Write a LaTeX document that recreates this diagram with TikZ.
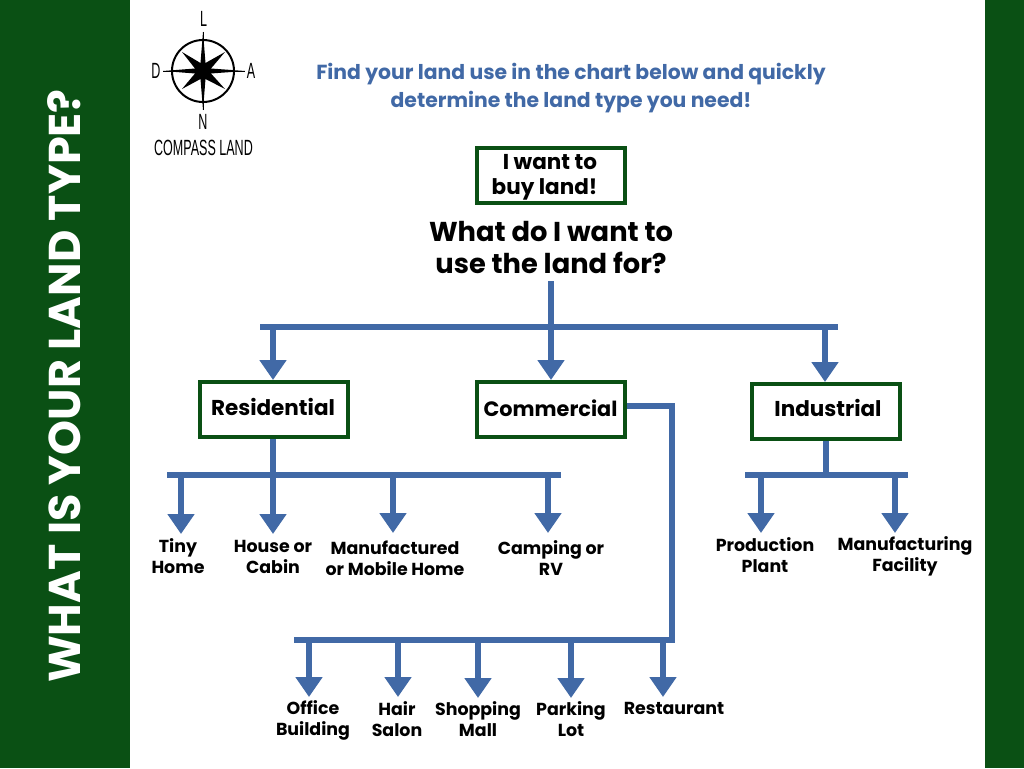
\documentclass[tikz,border=0pt]{standalone}
\usepackage{fontspec}
\setmainfont{Poppins}
\newfontfamily\logofont{Liberation Sans}[FakeStretch=0.57]
\usetikzlibrary{arrows.meta}
\definecolor{dkgreen}{HTML}{0A5014}
\definecolor{flowblue}{HTML}{4169A6}
\tikzset{
  x=1pt,y=-1pt,
  box/.style={draw=dkgreen,line width=4pt,fill=white,minimum width=148pt,minimum height=55pt,inner sep=0pt},
  boxtext/.style={font=\fontsize{21.5}{25}\selectfont\bfseries,align=center,inner sep=0pt},
  leaf/.style={font=\fontsize{17.4}{21}\selectfont\bfseries,align=center,inner sep=0pt,text=black},
  logo/.style={font=\logofont\fontsize{22}{22}\selectfont,inner sep=0pt,text=black},
  flow/.style={draw=flowblue,line width=6pt},
  flowarrow/.style={flow,-{Triangle[width=26pt,length=20pt,color=flowblue]}}
}
\begin{document}
\begin{tikzpicture}
\useasboundingbox (0,0) rectangle (1024,768);
\fill[dkgreen] (0,0) rectangle (130,768);
\fill[dkgreen] (985,0) rectangle (1024,768);
\node[rotate=90,text=white,font=\fontsize{44.5}{44.5}\selectfont\bfseries,inner sep=0pt] (side) at (64,386) {WHAT IS YOUR LAND TYPE?};
% logo
\coordinate (cc) at (203,71);
\draw[black,line width=2pt] (cc) circle (31);
\draw[black,line width=1pt] (203,32)--(203,110) (163,71)--(245,71);
\fill[black] (203,32)--(205.5,63)--(225,52)--(211,68.5)--(245,71)--(211,73.5)--(225,89)--(205.5,79)--(203,110)--(200.5,79)--(182,89)--(195,73.5)--(163,71)--(195,68.5)--(182,52)--(200.5,63)--cycle;
\node[logo] (lL) at (203.5,19) {L};
\node[logo] (lD) at (156,71) {D};
\node[logo] (lA) at (251,71) {A};
\node[logo] (lN) at (203,122) {N};
\node[logo] (lC) at (203.5,148) {COMPASS LAND};
% title
\node[font=\fontsize{20.35}{28.5}\selectfont\bfseries,text=flowblue,align=center,inner sep=0pt] (title) at (571,88) {Find your land use in the chart below and quickly\\determine the land type you need!};
% boxes
\node[box] (buy) at (550.5,175) {};
\node[boxtext,anchor=center] (buyt) at (550,177.5) {I want to\\buy land!\hspace*{11pt}};
\node[font=\fontsize{27.3}{32}\selectfont\bfseries,align=center,inner sep=0pt] (q) at (551,248) {What do I want to\\use the land for?};
\node[box] (res) at (273.5,409.5) {};
\node[boxtext] at (273,407) {Residential};
\node[box] (com) at (550.5,409) {};
\node[boxtext,font=\fontsize{20.8}{25}\selectfont\bfseries] at (550.5,408) {Commercial};
\node[box] (ind) at (825.5,411) {};
\node[boxtext] at (828,408) {Industrial};
% junctions
\coordinate (qb) at (551,281);
\coordinate (t1) at (260,327); \coordinate (t2) at (838,327);
\coordinate (tm) at (551,327);
\coordinate (tr) at (273,327); \coordinate (ti) at (825,327);
\coordinate (r1) at (167,475); \coordinate (r2) at (561,475);
\coordinate (c1) at (672,406); \coordinate (c2) at (672,640); \coordinate (c3) at (294,640);
\coordinate (i1) at (745,475); \coordinate (i2) at (908,475);
% top tree
\draw[flow] (t1) -- (t2);
\draw[flow] (qb) -- (tm);
\draw[flowarrow] (tr) -- (273,380);
\draw[flowarrow] (tm) -- (551,380);
\draw[flowarrow] (ti) -- (825,382);
% residential
\draw[flow] (res.south -| tr) -- (tr |- r1);
\draw[flow] (r1) -- (r2);
\coordinate (ra) at (181,475); \coordinate (rb) at (273,475); \coordinate (rc) at (393,475); \coordinate (rd) at (548,475);
\draw[flowarrow] (ra) -- (181,534);
\draw[flowarrow] (rb) -- (273,534);
\draw[flowarrow] (rc) -- (393,533);
\draw[flowarrow] (rd) -- (548,533);
% commercial
\draw[flow,line join=miter] (com.east |- c1) -- (c1) -- (c2) -- (c3);
\coordinate (ca) at (309,640); \coordinate (cb) at (398,640); \coordinate (cc2) at (478,640); \coordinate (cd) at (571,640); \coordinate (ce) at (663,640);
\draw[flowarrow] (ca) -- (309,697);
\draw[flowarrow] (cb) -- (398,697);
\draw[flowarrow] (cc2) -- (478,698);
\draw[flowarrow] (cd) -- (571,698);
\draw[flowarrow] (ce) -- (663,697);
% industrial
\draw[flow] (ind.south) -- (ind.south |- i1);
\draw[flow] (i1) -- (i2);
\coordinate (ia) at (761,475); \coordinate (ib) at (895,475);
\draw[flowarrow] (ia) -- (761,533);
\draw[flowarrow] (ib) -- (895,533);
% leaves
\node[leaf] (n1) at (178,556) {Tiny\\Home};
\node[leaf] (n2) at (273,557) {House or\\Cabin};
\node[leaf] (n3) at (395,558) {Manufactured\\or Mobile Home};
\node[leaf] (n4) at (551,558) {Camping or\\RV};
\node[leaf] (n5) at (313,720.5) {Office\\Building};
\node[leaf] (n6) at (397,719) {Hair\\Salon};
\node[leaf] (n7) at (478,719) {Shopping\\Mall};
\node[leaf] (n8) at (571,719) {Parking\\Lot};
\node[leaf] (n9) at (674,708) {Restaurant};
\node[leaf] (n10) at (765,555) {Production\\Plant};
\node[leaf] (n11) at (905,556) {Manufacturing\\Facility};
\end{tikzpicture}
\end{document}
